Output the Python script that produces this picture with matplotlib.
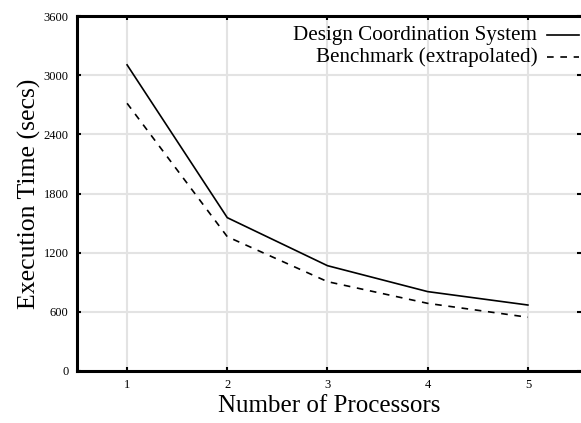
import matplotlib
matplotlib.use("Agg")
import matplotlib.pyplot as plt

# data
processors = [1, 2, 3, 4, 5]
dcs_times = [3105, 1555, 1068, 805, 669]
benchmark_times = [2715, 1362, 906, 686, 545]
y_ticks = [0, 600, 1200, 1800, 2400, 3000, 3600]

plt.rcParams['font.family'] = ['Liberation Serif', 'DejaVu Serif']

fig = plt.figure(figsize=(5.81, 4.23), dpi=100)
ax = fig.add_axes([0.1325, 0.123, 0.8675, 0.839])

ax.plot(processors, dcs_times, color='black', linewidth=1.2)
ax.plot(processors, benchmark_times, color='black', linewidth=1.2,
        linestyle=(0, (4, 4)))

ax.set_xlim(0.5, 5.53)
ax.set_ylim(0, 3600)
ax.set_xticks(processors)
ax.set_yticks(y_ticks)
ax.tick_params(direction='in', length=3, width=1.5, labelsize=9,
               top=True, right=True, pad=6)
ax.grid(True, color='#e3e3e3', linewidth=1.5)
ax.set_axisbelow(True)
for s in ax.spines.values():
    s.set_linewidth(2.2)
# right border falls off the edge of the picture
ax.spines['right'].set_visible(False)

ax.set_xlabel('Number of Processors', fontsize=18, labelpad=3)
ax.set_ylabel('Execution Time (secs)', fontsize=18.5, labelpad=2)

# gnuplot-style key: text right-aligned, sample on the right
key = [('Design Coordination System', '-'), ('Benchmark (extrapolated)', (0, (4, 4)))]
for i, (label, ls) in enumerate(key):
    yk = 0.946 - i * 0.062
    ax.text(0.913, yk, label, transform=ax.transAxes, ha='right', va='center',
            fontsize=15.2)
    ax.plot([0.932, 0.996], [yk, yk], transform=ax.transAxes, color='black',
            linewidth=1.2, linestyle=ls, clip_on=False)

fig.savefig('out.png', dpi=100)
